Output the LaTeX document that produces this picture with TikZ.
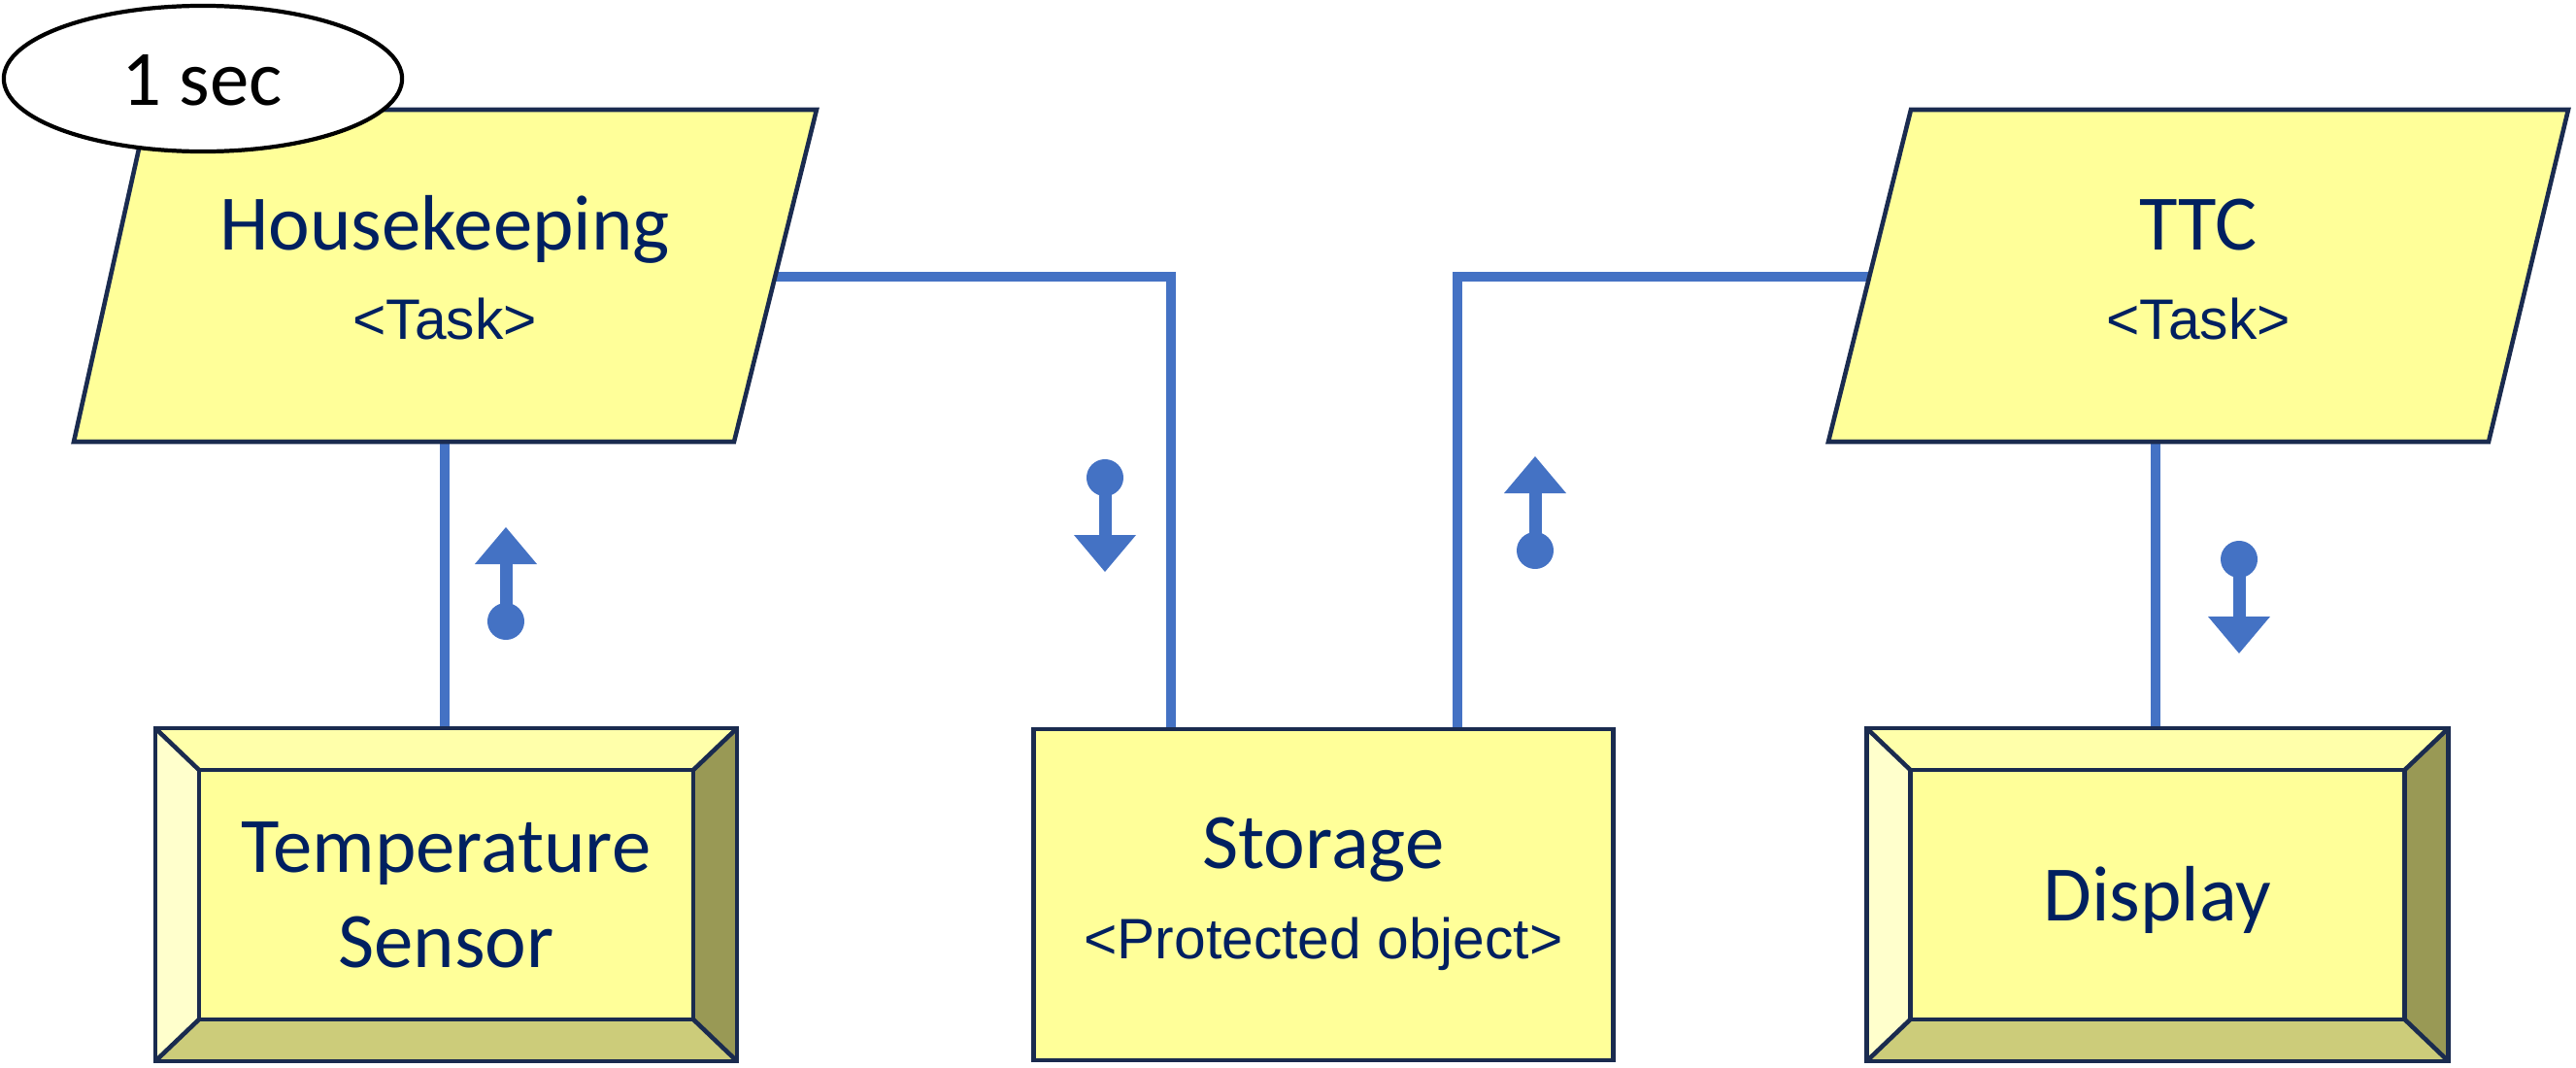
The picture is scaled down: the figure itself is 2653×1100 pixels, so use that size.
\documentclass[tikz,border=0pt]{standalone}
\usepackage{fontspec}
\setmainfont{Carlito}
\newfontfamily\arialf{Liberation Sans}
\usetikzlibrary{shapes.geometric,calc,backgrounds}
\definecolor{ylw}{HTML}{FFFF99}
\definecolor{bvtop}{HTML}{FFFFAA}
\definecolor{bvleft}{HTML}{FFFFCC}
\definecolor{bvright}{HTML}{999955}
\definecolor{bvbot}{HTML}{CCCC7A}
\definecolor{edge}{HTML}{1A2B4F}
\definecolor{txt}{HTML}{002060}
\definecolor{conblue}{HTML}{4472C4}
\newcommand\bevelfaces[1]{%
  \fill[bvtop] (#1.north west) -- (#1.north east) -- ($(#1.north east)+(-45,43)$) -- ($(#1.north west)+(45,43)$) -- cycle;
  \fill[bvbot] (#1.south west) -- (#1.south east) -- ($(#1.south east)+(-45,-43)$) -- ($(#1.south west)+(45,-43)$) -- cycle;
  \fill[bvleft] (#1.north west) -- (#1.south west) -- ($(#1.south west)+(45,-43)$) -- ($(#1.north west)+(45,43)$) -- cycle;
  \fill[bvright] (#1.north east) -- (#1.south east) -- ($(#1.south east)+(-45,-43)$) -- ($(#1.north east)+(-45,43)$) -- cycle;
  \draw[shapeline] ($(#1.north west)+(45,43)$) rectangle ($(#1.south east)+(-45,-43)$);
  \draw[shapeline] (#1.north west) -- ($(#1.north west)+(45,43)$);
  \draw[shapeline] (#1.north east) -- ($(#1.north east)+(-45,43)$);
  \draw[shapeline] (#1.south west) -- ($(#1.south west)+(45,-43)$);
  \draw[shapeline] (#1.south east) -- ($(#1.south east)+(-45,-43)$);
  \draw[shapeline] (#1.north west) rectangle (#1.south east);
}
\begin{document}
\begin{tikzpicture}[x=0.01cm,y=-0.01cm,
  shapeline/.style={draw=edge,line width=1.3pt,line join=miter},
  conn/.style={draw=conblue,line width=2.85pt},
  big/.style={text=txt,font=\fontsize{23}{28}\selectfont,inner sep=0pt,anchor=base},
  small/.style={text=txt,font=\arialf\fontsize{16.7}{20}\selectfont,inner sep=0pt,anchor=base},
  box/.style={fill=ylw,minimum width=5.97cm,minimum height=3.41cm,inner sep=0pt},
  sig/.pic={\fill[conblue] (0,0) -- (-32,38) -- (32,38) -- cycle;
            \fill[conblue] (-6.5,36) rectangle (6.5,97);
            \fill[conblue] (0,97) circle[radius=0.19cm];}
]
\useasboundingbox (0,0) rectangle (2653,1100);

% Housekeeping task
\coordinate (hk1) at (152,113);
\coordinate (hk2) at (841,113);
\coordinate (hk3) at (756,455);
\coordinate (hk4) at (76,455);
\draw[shapeline,fill=ylw] (hk1) -- (hk2) -- (hk3) -- (hk4) -- cycle;
\coordinate (hkR) at ($(hk2)!0.503!(hk3)+(-20,0)$);
\coordinate (hkB) at (458,440);
\node[big] (hkname) at (458,257) {Housekeeping};
\node[small] (hktask) at (458,349) {<Task>};

% timer ellipse
\node[ellipse,draw=black,line width=1.2pt,fill=white,minimum width=4.1cm,minimum height=1.5cm,inner sep=0pt] (timer) at (209,81) {};
\node[big,text=black] (timertxt) at (208,108) {1 sec};

% TTC task
\coordinate (tt1) at (1968,113);
\coordinate (tt2) at (2645,113);
\coordinate (tt3) at (2563,455);
\coordinate (tt4) at (1883,455);
\draw[shapeline,fill=ylw] (tt1) -- (tt2) -- (tt3) -- (tt4) -- cycle;
\coordinate (ttL) at ($(tt1)!0.503!(tt4)+(20,0)$);
\coordinate (ttB) at (2220,440);
\node[big] (ttname) at (2264,257) {TTC};
\node[small] (tttask) at (2264,349) {<Task>};

% Temperature sensor
\node[box] (temp) at (459.5,921.5) {};
\bevelfaces{temp}
\node[big,anchor=center,align=center] (temptxt) at (459.5,922) {Temperature\\Sensor};

% Storage
\node[box,shapeline] (store) at (1363,921.5) {};
\node[big] (storename) at (1363,894) {Storage};
\node[small] (storetype) at (1363,987) {<Protected object>};

% Display
\node[box] (disp) at (2222,921.5) {};
\bevelfaces{disp}
\node[big] (disptxt) at (2222,948) {Display};

% connectors
\begin{scope}[on background layer]
\draw[conn] (hkB) -- (hkB |- temp.north);
\draw[conn] (hkR) -| ($(store.north west)!0.239!(store.north east)$);
\draw[conn] (ttL) -| ($(store.north west)!0.729!(store.north east)$);
\draw[conn] (ttB) -- (ttB |- disp.north);
\end{scope}

% flow arrows
\pic at (521,543) {sig};
\pic[rotate=180] at (1138,589) {sig};
\pic at (1581,470) {sig};
\pic[rotate=180] at (2306,673) {sig};
\end{tikzpicture}
\end{document}
